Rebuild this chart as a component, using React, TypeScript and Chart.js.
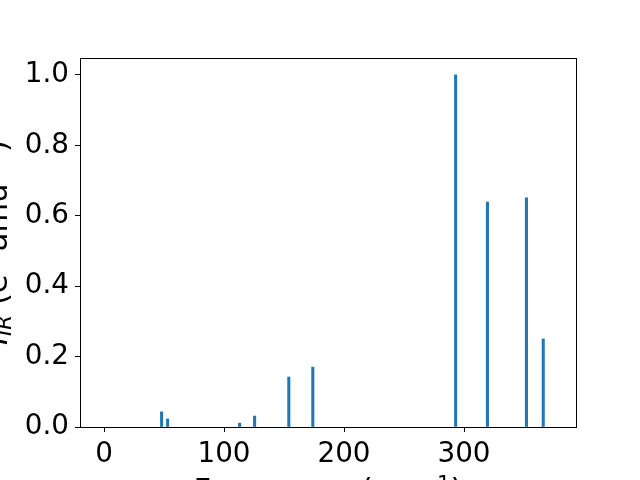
import React, { useEffect, useRef } from "react";
import { Chart, registerables } from "chart.js";

Chart.register(...registerables);

const frequencies = [48, 53, 113, 125.5, 154, 174, 293, 319.5, 352, 366];
const intensities = [0.043, 0.023, 0.011, 0.031, 0.142, 0.17, 1.0, 0.639, 0.651, 0.25];
const xTicks = [0, 100, 200, 300];
const yTicks = [0, 0.2, 0.4, 0.6, 0.8, 1.0];

const FONT = "'DejaVu Sans', sans-serif";
const LABEL_SIZE = 30.5;
const TICK_SIZE = 27.8;

type Seg = { text: string; scale?: number; shift?: number; italic?: boolean };

function drawMath(ctx: CanvasRenderingContext2D, segs: Seg[], size: number) {
  const fontOf = (s: Seg) => `${s.italic ? "italic " : ""}${size * (s.scale ?? 1)}px ${FONT}`;
  let total = 0;
  const widths = segs.map((s) => {
    ctx.font = fontOf(s);
    const w = ctx.measureText(s.text).width;
    total += w;
    return w;
  });
  let x = -total / 2;
  ctx.textAlign = "left";
  ctx.textBaseline = "alphabetic";
  ctx.fillStyle = "#000";
  segs.forEach((s, i) => {
    ctx.font = fontOf(s);
    ctx.fillText(s.text, x, -(s.shift ?? 0) * size);
    x += widths[i];
  });
}

const framePlugin = {
  id: "frameAndLabels",
  afterDatasetsDraw(chart: any) {
    const ctx: CanvasRenderingContext2D = chart.ctx;
    const a = chart.chartArea;
    ctx.save();
    ctx.strokeStyle = "#000";
    ctx.lineWidth = 1;
    ctx.strokeRect(Math.round(a.left) + 0.5, Math.round(a.top) + 0.5, Math.round(a.right - a.left), Math.round(a.bottom - a.top));
    ctx.restore();
  },
  afterDraw(chart: any) {
    const ctx: CanvasRenderingContext2D = chart.ctx;
    const a = chart.chartArea;
    ctx.save();
    ctx.translate((a.left + a.right) / 2, 500);
    drawMath(
      ctx,
      [
        { text: "Frequency (cm" },
        { text: "\u22121", scale: 0.7, shift: 0.29 },
        { text: ")" },
      ],
      LABEL_SIZE
    );
    ctx.restore();
    ctx.save();
    ctx.translate(7, (a.top + a.bottom) / 2);
    ctx.rotate(-Math.PI / 2);
    drawMath(
      ctx,
      [
        { text: "I", italic: true },
        { text: "IR", italic: true, scale: 0.7, shift: -0.12 },
        { text: " (e" },
        { text: "2", scale: 0.7, shift: 0.29 },
        { text: " amu" },
        { text: "\u22121", scale: 0.7, shift: 0.29 },
        { text: ")" },
      ],
      LABEL_SIZE
    );
    ctx.restore();
  },
};

export default function App() {
  const ref = useRef<HTMLCanvasElement>(null);
  useEffect(() => {
    if (!ref.current) return;
    const chart = new Chart(ref.current, {
      type: "bar",
      data: {
        datasets: [
          {
            data: frequencies.map((f, i) => ({ x: f, y: intensities[i] })),
            backgroundColor: "#1f77b4",
            borderWidth: 0,
            barThickness: 2.4,
          } as any,
        ],
      },
      options: {
        animation: false,
        responsive: false,
        layout: { padding: { top: 58, right: 64, left: 0, bottom: 0 } },
        plugins: { legend: { display: false }, tooltip: { enabled: false } },
        scales: {
          x: {
            type: "linear",
            min: -20,
            max: 393.3,
            offset: false,
            afterBuildTicks: (s: any) => {
              s.ticks = xTicks.map((v) => ({ value: v }));
            },
            afterFit: (s: any) => {
              s.height = 53;
            },
            grid: { offset: false, drawOnChartArea: false, drawTicks: true, tickLength: 5, color: "#000" },
            border: { display: false },
            ticks: {
              color: "#000",
              font: { family: FONT, size: TICK_SIZE },
              padding: 6,
              maxRotation: 0,
              callback: (v: any) => String(v),
            },
          },
          y: {
            type: "linear",
            min: 0,
            max: 1.048,
            afterBuildTicks: (s: any) => {
              s.ticks = yTicks.map((v) => ({ value: v }));
            },
            afterFit: (s: any) => {
              s.width = 80;
            },
            grid: { drawOnChartArea: false, drawTicks: true, tickLength: 5, color: "#000" },
            border: { display: false },
            ticks: {
              color: "#000",
              font: { family: FONT, size: TICK_SIZE },
              padding: 6,
              callback: (v: any) => Number(v).toFixed(1),
            },
          },
        },
      },
      plugins: [framePlugin],
    });
    return () => chart.destroy();
  }, []);
  return (
    <div style={{ position: "fixed", left: 0, top: 0, width: 640, height: 480, background: "#fff" }}>
      <canvas ref={ref} width={640} height={480} />
    </div>
  );
}
